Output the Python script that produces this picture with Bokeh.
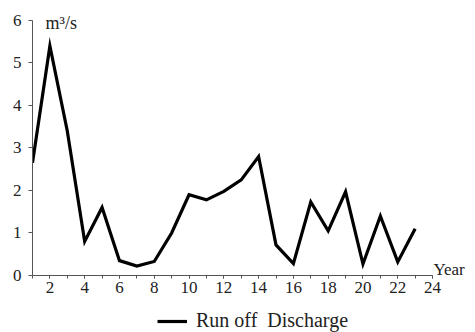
from bokeh.plotting import figure
from bokeh.layouts import column
from bokeh.models import Range1d, FixedTicker, Legend, LegendItem
from bokeh.core.properties import value
from bokeh.embed import file_html
from bokeh.resources import INLINE

years = list(range(1, 24))
discharge = [2.65, 5.4, 3.4, 0.8, 1.6, 0.35, 0.22, 0.33, 1.0, 1.9, 1.78, 1.98,
             2.25, 2.8, 0.72, 0.28, 1.73, 1.05, 1.97, 0.27, 1.4, 0.32, 1.1]
x_ticks = [2, 4, 6, 8, 10, 12, 14, 16, 18, 20, 22, 24]
x_minor = list(range(1, 25))
y_ticks = [0, 1, 2, 3, 4, 5, 6]
y_unit = "m³/s"
x_name = "Year"
series_name = "Run off  Discharge"

FONT = "Liberation Serif"
AX = "#555555"
TXT = "#222222"

p = figure(width=475, height=305, output_backend="svg", toolbar_location=None,
           x_range=Range1d(1, 26.47), y_range=Range1d(0, 6.47),
           min_border_left=32, min_border_right=0, min_border_top=0, min_border_bottom=30)
p.outline_line_color = None
p.grid.grid_line_color = None
p.background_fill_color = "white"
p.border_fill_color = "white"

r = p.line(years, discharge, line_color="black", line_width=3.2, line_join="miter")

for ax in (p.xaxis[0], p.yaxis[0]):
    ax.axis_line_color = AX
    ax.major_tick_line_color = AX
    ax.minor_tick_line_color = AX
    ax.major_label_text_font = FONT
    ax.major_label_text_font_size = "17px"
    ax.major_label_text_color = TXT
    ax.major_tick_in = 0

p.xaxis.bounds = (1, 24)
p.xaxis.ticker = FixedTicker(ticks=x_ticks, minor_ticks=x_minor)
p.xaxis.major_tick_out = 3
p.xaxis.minor_tick_out = 3
p.xaxis.minor_tick_in = 0
p.xaxis.major_label_standoff = 3

p.yaxis.bounds = (0, 6)
p.yaxis.ticker = FixedTicker(ticks=y_ticks, minor_ticks=[])
p.yaxis.major_tick_out = 4
p.yaxis.major_label_standoff = 7

p.text(x=[1.75], y=[5.93], text=[y_unit], text_font=value(FONT), text_font_size="18px",
       text_color=TXT, text_baseline="middle", text_align="left")
p.text(x=[24.05], y=[0.15], text=[x_name], text_font=value(FONT), text_font_size="17px",
       text_color=TXT, text_baseline="middle", text_align="left")

# legend strip (sample line renderer kept outside the visible range)
lg = figure(width=475, height=27, output_backend="svg", toolbar_location=None,
            x_range=Range1d(0, 1), y_range=Range1d(0, 1),
            min_border=0)
lg.outline_line_color = None
lg.grid.grid_line_color = None
lg.axis.visible = False
lr = lg.line(x=[5, 6], y=[5, 5], line_color="black", line_width=3.2)
legend = Legend(items=[LegendItem(label=series_name, renderers=[lr])],
                location=(125, 0), orientation="horizontal",
                label_text_font=FONT, label_text_font_size="20px",
                label_text_color=TXT, border_line_color=None,
                background_fill_alpha=0, glyph_width=30, glyph_height=20,
                label_height=20, label_standoff=9, margin=0, padding=3)
lg.add_layout(legend)

layout = column(p, lg, spacing=0)
open("out.html", "w").write(file_html(layout, INLINE))
